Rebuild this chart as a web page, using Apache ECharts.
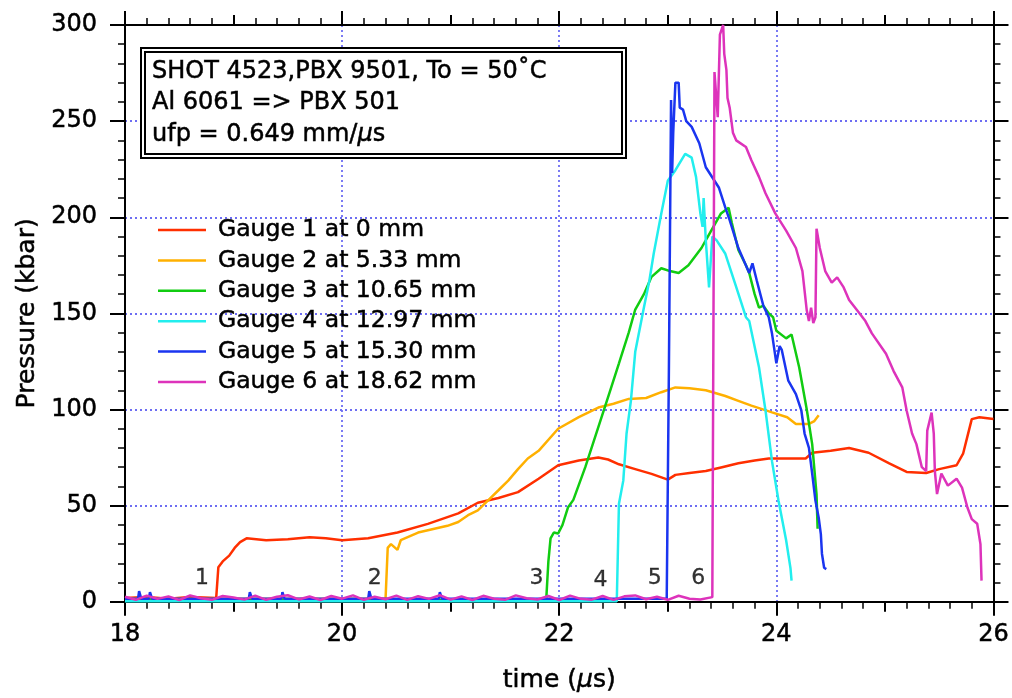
<!DOCTYPE html>
<html lang="en">
<head>
<meta charset="UTF-8">
<title>Shot 4523 gauge pressures</title>
<script src="https://cdn.jsdelivr.net/npm/echarts@6/dist/echarts.min.js"></script>
<style>
  body { margin: 0; background: #fff; }
  #chart { width: 1012px; height: 698px; }
</style>
</head>
<body>
<div id="chart"></div>
<script>
// ---- data: time (us) and pressure (kbar) ----
const gaugeNames = ['Gauge 1 at 0 mm', 'Gauge 2 at 5.33 mm', 'Gauge 3 at 10.65 mm',
                    'Gauge 4 at 12.97 mm', 'Gauge 5 at 15.30 mm', 'Gauge 6 at 18.62 mm'];
const gaugeColors = ['#ff2f00', '#ffb000', '#11cc11', '#22eeee', '#1a35f0', '#dd33bb'];

const g1T = [18.00, 18.20, 18.40, 18.60, 18.84, 18.86, 18.90, 18.96, 19.01, 19.06, 19.12, 19.30, 19.50, 19.70, 19.85,
             20.00, 20.24, 20.51, 20.79, 21.07, 21.25, 21.44, 21.62, 21.81, 21.99, 22.18, 22.36, 22.45, 22.55, 22.70,
             22.85, 23.00, 23.07, 23.20, 23.35, 23.50, 23.65, 23.80, 23.93, 24.10, 24.27, 24.33, 24.50, 24.67, 24.85,
             25.04, 25.20, 25.38, 25.50, 25.66, 25.72, 25.76, 25.80, 25.87, 26.00];
const g1P = [2, 2.5, 1.5, 2.5, 2, 18, 21, 24, 28, 31, 33, 32, 32.5, 33.5, 33,
             32, 33, 36, 40.5, 46, 51.5, 54, 57, 64, 71, 73.5, 75, 74, 71.5, 69,
             66.5, 63.5, 66, 67, 68, 70, 72, 73.5, 74.5, 74.5, 74.5, 77.5, 78.5, 80, 77.5,
             72, 67.5, 67, 69, 71, 77, 86, 95, 96, 95];

const g2T = [18.00, 18.50, 19.00, 19.50, 20.00, 20.40, 20.42, 20.45, 20.51, 20.54, 20.70, 20.85, 20.97, 21.07,
             21.16, 21.25, 21.34, 21.44, 21.53, 21.62, 21.71, 21.81, 21.99, 22.18, 22.36, 22.50, 22.64, 22.80,
             22.94, 23.07, 23.20, 23.35, 23.53, 23.65, 23.77, 23.96, 24.10, 24.18, 24.30, 24.35, 24.39];
const g2P = [1.5, 1.5, 1.5, 1.5, 1.5, 1.5, 28, 30, 27, 32, 36, 38, 39.5, 41.5,
             45, 47.5, 52.5, 58, 63, 69, 74.5, 78.5, 90, 96, 101, 103, 105.5, 106,
             109, 111.5, 111, 110, 107, 104.5, 102, 98.5, 96, 92.5, 92.5, 94, 97];

const g3T = [18.00, 19.00, 20.00, 21.00, 21.88, 21.90, 21.92, 21.95, 21.99, 22.03, 22.08, 22.13, 22.24, 22.39,
             22.47, 22.55, 22.64, 22.70, 22.73, 22.78, 22.85, 22.94, 23.02, 23.10, 23.19, 23.31, 23.40, 23.49,
             23.56, 23.59, 23.65, 23.72, 23.75, 23.80, 23.84, 23.88, 23.93, 23.97, 24.00, 24.09, 24.14, 24.21,
             24.28, 24.33, 24.37, 24.38];
const g3P = [1, 1, 1, 1, 1, 21, 33, 36, 35.5, 40, 49, 53, 70, 96,
             110, 124, 140, 152, 155, 160, 169, 173.5, 172, 171, 175, 184, 193, 202,
             205, 197, 183, 175, 171, 160, 153, 154, 150, 148, 141, 137, 139, 122,
             100, 82, 56, 38];

const g4T = [18.00, 19.00, 20.00, 21.00, 22.00, 22.53, 22.55, 22.59, 22.62, 22.66, 22.70, 22.78, 22.83, 22.87,
             22.94, 23.00, 23.07, 23.16, 23.22, 23.26, 23.30, 23.32, 23.33, 23.35, 23.38, 23.41, 23.45, 23.53,
             23.62, 23.72, 23.75, 23.84, 23.90, 23.96, 24.02, 24.09, 24.13, 24.14];
const g4P = [0.3, 0.3, 0.3, 0.3, 0.3, 0.3, 51, 63, 87.5, 104.5, 130, 153, 167, 181,
             202, 219, 224.5, 233, 231, 221, 202, 195, 210, 188, 163.5, 190, 188, 181,
             165.5, 148, 146, 122, 99.5, 73, 52.5, 32, 17.5, 11];

const g5T = [18.00, 18.12, 18.13, 18.15, 18.22, 18.23, 18.25, 19.14, 19.15, 19.17, 19.44, 19.45, 19.47,
             20.24, 20.25, 20.27, 20.89, 20.90, 20.92, 22.00, 22.99, 23.01, 23.03, 23.04, 23.05, 23.07, 23.10,
             23.11, 23.14, 23.17, 23.22, 23.29, 23.35, 23.47, 23.53, 23.57, 23.65, 23.75, 23.78, 23.82, 23.88,
             23.93, 23.96, 24.00, 24.03, 24.05, 24.11, 24.18, 24.23, 24.26, 24.30, 24.33, 24.36, 24.39, 24.41,
             24.42, 24.44, 24.46];
const g5P = [1.5, 1.5, 5.5, 1.5, 1.5, 5, 1.5, 1.5, 5, 1.5, 1.5, 5, 1.5,
             1.5, 5.5, 1.5, 1.5, 5, 1.5, 1.5, 1.5, 120, 261, 223, 244, 270, 270,
             257, 256, 250, 247, 238.5, 226, 215.5, 205, 198.5, 184, 171, 176, 167, 154,
             148, 139.5, 124, 133, 131, 115, 108, 99.5, 87.5, 80, 66.7, 52.6, 43.7, 35,
             25, 17.7, 17];

const g6T = [18.0, 18.1, 18.2, 18.3, 18.4, 18.5, 18.6, 18.7, 18.8, 18.9,
             19.0, 19.1, 19.2, 19.3, 19.4, 19.5, 19.6, 19.7, 19.8, 19.9,
             20.0, 20.1, 20.2, 20.3, 20.4, 20.5, 20.6, 20.7, 20.8, 20.9,
             21.0, 21.1, 21.2, 21.3, 21.4, 21.5, 21.6, 21.7, 21.8, 21.9,
             22.0, 22.1, 22.2, 22.3, 22.4, 22.5, 22.6, 22.7, 22.8, 22.9,
             23.0, 23.1, 23.2, 23.3, 23.41, 23.43, 23.46, 23.48, 23.51, 23.52,
             23.54, 23.55, 23.57, 23.60, 23.63, 23.72, 23.77, 23.84, 23.90, 23.99,
             24.09, 24.18, 24.24, 24.28, 24.30, 24.32, 24.34, 24.36, 24.37, 24.40,
             24.45, 24.51, 24.56, 24.62, 24.67, 24.76, 24.82, 24.88, 25.01, 25.08,
             25.16, 25.20, 25.25, 25.29, 25.34, 25.38, 25.39, 25.43, 25.45, 25.46,
             25.48, 25.52, 25.58, 25.66, 25.71, 25.76, 25.80, 25.85, 25.88, 25.89];
const g6P = [2.6, 1.0, 3.2, 1.5, 2.8, 0.9, 3.3, 1.8, 1.0, 3.0,
             2.2, 1.1, 3.2, 1.0, 2.6, 3.4, 1.2, 2.7, 0.9, 3.0,
             1.6, 3.3, 1.0, 2.6, 1.3, 3.2, 1.0, 2.9, 1.5, 3.4,
             1.1, 2.8, 0.9, 3.1, 1.6, 1.0, 3.3, 1.8, 1.2, 3.0,
             0.9, 3.2, 1.5, 1.1, 3.0, 1.0, 2.8, 3.3, 1.3, 2.6,
             1.0, 3.1, 1.6, 1.2, 2.4, 275.5, 252, 295, 300, 285,
             276.5, 262, 257, 244, 240, 236.5, 229.7, 221, 212.5, 202,
             193, 184, 172, 151.6, 146, 153, 145, 148, 194, 184,
             172, 166, 168.7, 163.5, 157, 150.5, 146, 139.6, 129, 120,
             111.5, 99.5, 87.5, 82, 70, 68, 89, 98.4, 87.5, 68,
             56, 66.7, 60.4, 64, 59.4, 49, 43, 40.6, 30, 11];

// arrival markers near the baseline
const markerText = ['1', '2', '3', '4', '5', '6'];
const markerT = [18.71, 20.30, 21.79, 22.38, 22.88, 23.28];
const markerP = [12, 12, 12, 11, 12, 12];

const xTicks = [18, 20, 22, 24, 26];
const yTicks = [0, 50, 100, 150, 200, 250, 300];

// ---- chart ----
const FONT = 'DejaVu Sans';
const chart = echarts.init(document.getElementById('chart'), null, { renderer: 'canvas' });

const times = [g1T, g2T, g3T, g4T, g5T, g6T];
const pressures = [g1P, g2P, g3P, g4P, g5P, g6P];

const lineSeries = gaugeNames.map((name, k) => ({
    name: name,
    type: 'line',
    data: times[k].map((t, i) => [t, pressures[k][i]]),
    symbol: 'none',
    color: gaugeColors[k],
    lineStyle: { color: gaugeColors[k], width: 2.5 },
    z: 2 + k,
    animation: false
}));

// a thin stroke makes DejaVu look closer to the heavier face of the original
const heavy = { textBorderColor: '#000', textBorderWidth: 0.5 };

const markerSeries = {
    name: 'markers',
    type: 'scatter',
    symbolSize: 0,
    data: markerT.map((t, i) => ({ name: markerText[i], value: [t, markerP[i]] })),
    label: Object.assign({
        show: true, position: 'inside', formatter: p => p.name,
        fontSize: 22, fontFamily: FONT, color: '#000'
    }, { textBorderColor: '#000', textBorderWidth: 0.3 }),
    z: 10,
    animation: false
};

const black = { color: '#000', width: 2 };
const gridDots = { color: '#6d6df2', width: 1.8, type: [2, 3] };

function xAxisDef(pos, interval, main) {
    return {
        type: 'value', position: pos, min: xTicks[0], max: xTicks[xTicks.length - 1],
        interval: interval,
        axisLine: { show: main, onZero: false, lineStyle: black },
        axisTick: { show: true, inside: false, length: main ? 14 : 10, lineStyle: black },
        minorTick: { show: main, splitNumber: 10, length: 7, lineStyle: { color: '#000', width: 1.5 } },
        axisLabel: { show: false },
        splitLine: { show: false }
    };
}

const xBottom = xAxisDef('bottom', 2, true);
xBottom.axisLabel = Object.assign({ show: true, fontSize: 24, fontFamily: FONT, color: '#000', margin: 21 }, heavy);
xBottom.splitLine = { show: true, lineStyle: gridDots };
xBottom.name = '{n|time (}{i|\u00b5}{n|s)}';
xBottom.nameLocation = 'middle';
xBottom.nameGap = 66;
xBottom.nameTextStyle = {
    rich: {
        n: Object.assign({ fontSize: 25, fontFamily: FONT, color: '#000' }, heavy),
        i: Object.assign({ fontSize: 25, fontFamily: FONT, color: '#000', fontStyle: 'italic' }, heavy)
    }
};

function yAxisDef(pos, main) {
    return {
        type: 'value', position: pos, min: yTicks[0], max: yTicks[yTicks.length - 1],
        interval: 50,
        axisLine: { show: true, onZero: false, lineStyle: black },
        axisTick: { show: true, inside: false, length: 15, lineStyle: black },
        minorTick: { show: true, splitNumber: 5, length: 7, lineStyle: { color: '#000', width: 1.5 } },
        axisLabel: Object.assign({ show: main, fontSize: 24, fontFamily: FONT, color: '#000', margin: 28 }, heavy),
        splitLine: { show: main, lineStyle: gridDots }
    };
}

const yLeft = yAxisDef('left', true);
yLeft.name = 'Pressure (kbar)';
yLeft.nameLocation = 'middle';
yLeft.nameGap = 80;
yLeft.nameTextStyle = Object.assign({ fontSize: 25, fontFamily: FONT, color: '#000' }, heavy);

const option = {
    backgroundColor: '#fff',
    animation: false,
    grid: { left: 125, right: 17, top: 25, bottom: 96, containLabel: false },
    xAxis: [xBottom, xAxisDef('bottom', 1, false), xAxisDef('top', 2, true), xAxisDef('top', 1, false)],
    yAxis: [yLeft, yAxisDef('right', false)],
    legend: {
        orient: 'vertical', left: 158, top: 215, padding: 0,
        icon: 'rect', itemWidth: 48, itemHeight: 2.5, itemGap: 0.4,
        selectedMode: false,
        data: gaugeNames,
        textStyle: Object.assign({ fontSize: 23.5, fontFamily: FONT, color: '#000', lineHeight: 30, padding: [0, 0, 0, 7] }, heavy)
    },
    graphic: [
        { type: 'rect', z: 100, shape: { x: 141, y: 48, width: 485, height: 110 },
          style: { fill: '#fff', stroke: '#000', lineWidth: 2 } },
        { type: 'rect', z: 101, shape: { x: 145, y: 52, width: 477, height: 102 },
          style: { fill: 'none', stroke: '#000', lineWidth: 2 } },
        { type: 'text', z: 102, x: 152, y: 56,
          style: {
              text: '{n|SHOT 4523,PBX 9501, To = 50\u02daC}\n{n|Al 6061 => PBX 501}\n{n|ufp = 0.649 mm/}{i|\u00b5}{n|s}',
              rich: {
                  n: { fontSize: 24, fontFamily: FONT, fill: '#000', lineHeight: 31.5, stroke: '#000', lineWidth: 0.5 },
                  i: { fontSize: 24, fontFamily: FONT, fill: '#000', lineHeight: 31.5, fontStyle: 'italic', stroke: '#000', lineWidth: 0.5 }
              }
          } }
    ],
    series: lineSeries.concat([markerSeries])
};

chart.setOption(option);
</script>
</body>
</html>
